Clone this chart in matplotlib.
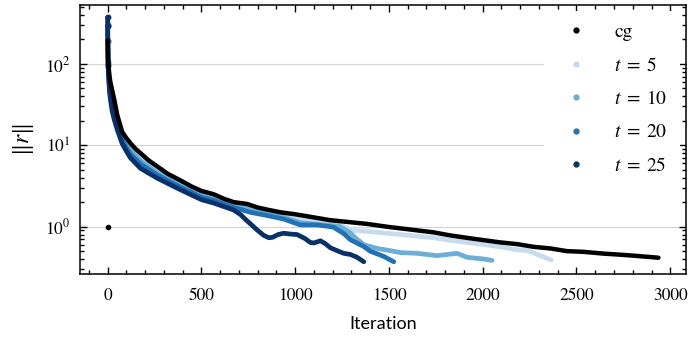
import matplotlib
matplotlib.use('Agg')
import matplotlib.pyplot as plt
from matplotlib.lines import Line2D
from matplotlib.ticker import MultipleLocator, LogLocator

# ---- data ----
labels = ['cg', r'$t\;=\;5$', r'$t\;=\;10$', r'$t\;=\;20$', r'$t\;=\;25$']
colors = ['#000000', '#c6dbef', '#6baed6', '#2171b5', '#08306b']

cg_start_iter = [0]
cg_start_res = [1.0]

cg_iter = [1, 3, 6, 10, 15, 25, 35, 52, 78, 100, 122, 150, 176, 220, 265, 318, 389,
           450, 500, 566, 620, 673, 744, 800, 851, 922, 1000, 1099, 1188, 1300, 1384,
           1500, 1600, 1739, 1827, 1950, 2094, 2183, 2271, 2360, 2449, 2537, 2650,
           2716, 2804, 2937]
cg_res = [195, 120, 90, 72, 60, 47, 37, 23.5, 14.6, 12.3, 10.6, 9.0, 8.0, 6.5, 5.5, 4.5, 3.7,
          3.1, 2.75, 2.5, 2.2, 2.0, 1.9, 1.72, 1.62, 1.5, 1.42, 1.3, 1.2, 1.13, 1.08,
          0.99, 0.93, 0.85, 0.78, 0.71, 0.64, 0.61, 0.565, 0.54, 0.50, 0.49, 0.465,
          0.455, 0.44, 0.415]

t5_iter = [0, 1, 3, 6, 10, 15, 25, 35, 52, 78, 100, 122, 176, 265, 389, 500, 566, 673,
           762, 851, 939, 1028, 1117, 1206, 1260, 1300, 1384, 1561, 1739, 1827, 1916,
           2094, 2183, 2236, 2307, 2365]
t5_res = [190, 150, 110, 80, 60, 48, 38, 30, 21, 13.5, 11.0, 9.3, 7.0, 4.9, 3.4, 2.55, 2.3,
          1.9, 1.7, 1.52, 1.40, 1.24, 1.19, 1.12, 1.0, 0.9, 0.876, 0.80, 0.73, 0.68, 0.64,
          0.565, 0.52, 0.51, 0.44, 0.39]

t10_iter = [0, 1, 3, 6, 10, 15, 25, 35, 52, 78, 100, 122, 176, 265, 389, 500, 566, 673,
            762, 851, 939, 1028, 1117, 1206, 1240, 1290, 1330, 1366, 1437, 1500, 1561,
            1650, 1756, 1863, 1916, 2005, 2049]
t10_res = [300, 190, 105, 75, 56, 44, 34, 27, 19, 12.5, 10.2, 8.6, 6.5, 4.6, 3.25, 2.45, 2.2,
           1.82, 1.65, 1.45, 1.30, 1.12, 1.07, 1.02, 1.0, 0.85, 0.70, 0.60, 0.54, 0.51, 0.48,
           0.47, 0.44, 0.47, 0.42, 0.40, 0.385]

t20_iter = [0, 1, 3, 6, 10, 15, 25, 35, 52, 78, 100, 122, 176, 265, 389, 500, 566, 673,
            762, 851, 939, 1028, 1117, 1188, 1206, 1260, 1295, 1366, 1400, 1473, 1526]
t20_res = [300, 190, 100, 72, 52, 40, 30, 24, 17, 11.5, 9.4, 7.8, 5.9, 4.3, 3.05, 2.3, 2.1,
           1.72, 1.5, 1.37, 1.24, 1.05, 1.05, 1.0, 0.98, 0.82, 0.69, 0.57, 0.50, 0.43, 0.37]

t25_iter = [0, 1, 3, 6, 10, 15, 25, 35, 52, 78, 100, 122, 176, 265, 389, 500, 566, 673,
            710, 740, 762, 800, 833, 860, 880, 910, 939, 975, 1010, 1050, 1081, 1100,
            1135, 1160, 1188, 1230, 1259, 1295, 1330, 1366]
t25_res = [375, 295, 95, 68, 48, 37, 26, 21, 15.5, 10.5, 8.5, 7.0, 5.2, 3.94, 2.84, 2.15,
           1.95, 1.6, 1.4, 1.2, 1.08, 0.9, 0.78, 0.73, 0.74, 0.8, 0.83, 0.81, 0.80, 0.72,
           0.64, 0.63, 0.67, 0.62, 0.55, 0.50, 0.47, 0.455, 0.42, 0.37]

plt.rcParams['font.family'] = ['STIXGeneral', 'DejaVu Serif']
plt.rcParams['mathtext.fontset'] = 'stix'
plt.rcParams['font.size'] = 12.5

fig = plt.figure(figsize=(6.9, 3.37), dpi=100)
ax = fig.add_axes([80 / 690, 1 - 274 / 337, 606 / 690, 269 / 337])

series = [(t5_iter, t5_res), (t10_iter, t10_res), (t20_iter, t20_res), (t25_iter, t25_res)]
for (xs, ys), c in zip(series, colors[1:]):
    ax.plot(xs, ys, color=c, lw=3.4, solid_capstyle='round', solid_joinstyle='round',
            zorder=3)
    ax.plot(xs[:3], ys[:3], 'o', color=c, ms=3.2, zorder=3)
ax.plot(cg_iter, cg_res, color='k', lw=3.2, solid_capstyle='round',
        solid_joinstyle='round', zorder=4)
ax.plot(cg_start_iter, cg_start_res, 'o', color='k', ms=3.0, zorder=4)

ax.set_yscale('log')
ax.xaxis.set_major_locator(MultipleLocator(500))
ax.xaxis.set_minor_locator(MultipleLocator(100))
ax.yaxis.set_major_locator(LogLocator(base=10))
ax.yaxis.set_minor_locator(LogLocator(base=10, subs=range(2, 10)))
ax.tick_params(which='both', direction='in', top=True, right=True, width=1.0)
ax.tick_params(which='major', length=5)
ax.tick_params(which='minor', length=2.8)
ax.tick_params(axis='x', which='major', pad=10)
ax.tick_params(axis='y', which='major', pad=7)
for s in ax.spines.values():
    s.set_linewidth(1.1)
ax.grid(True, axis='y', which='major', color='#d4d4d4', lw=0.8, zorder=0)
ax.set_axisbelow(True)

ax.set_xlabel('Iteration', family=['Lato', 'DejaVu Sans'], fontsize=13, labelpad=9)
ax.set_ylabel(r'$\Vert r\Vert$', fontsize=17, labelpad=6)

handles = [Line2D([], [], ls='none', marker='o', ms=3.5, color=c) for c in colors]
leg = ax.legend(handles, labels, loc='upper right', frameon=True, framealpha=1,
                facecolor='white', edgecolor='none', handlelength=2.0,
                handletextpad=0.96, labelspacing=0.80, borderpad=0.65, fontsize=14,
                borderaxespad=0.3)
leg.set_zorder(5)

fig.savefig('out.png', dpi=100)
